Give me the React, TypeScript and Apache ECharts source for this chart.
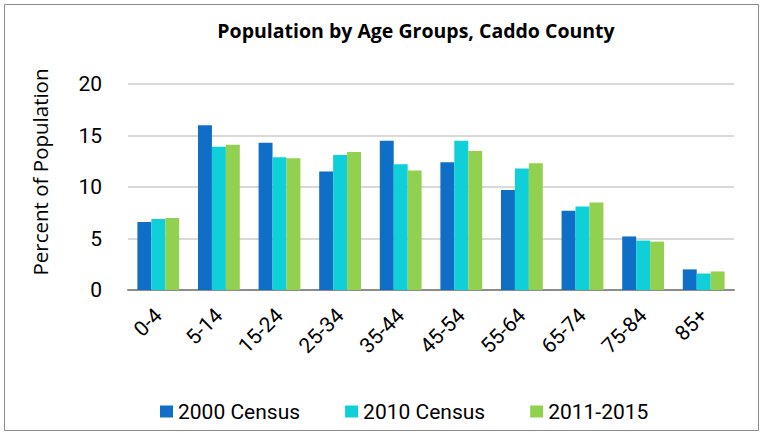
import React, { useEffect, useRef } from "react";
import * as echarts from "echarts";

const categories = ["0-4", "5-14", "15-24", "25-34", "35-44", "45-54", "55-64", "65-74", "75-84", "85+"];
const census2000 = [6.6, 16.0, 14.3, 11.5, 14.5, 12.4, 9.7, 7.7, 5.2, 2.0];
const census2010 = [6.9, 13.9, 12.9, 13.1, 12.2, 14.5, 11.8, 8.1, 4.8, 1.6];
const acs2011_2015 = [7.0, 14.1, 12.8, 13.4, 11.6, 13.5, 12.3, 8.5, 4.7, 1.8];
const seriesNames = ["2000 Census", "2010 Census", "2011-2015"];
const colors = ["#0F6FC6", "#0FCFD8", "#92D050"];

const FONT = "Roboto, 'Open Sans', sans-serif";
const WIDE = "'Open Sans', Roboto, sans-serif";

export default function App() {
  const ref = useRef<HTMLDivElement>(null);
  useEffect(() => {
    if (!ref.current) return;
    const chart = echarts.init(ref.current, undefined, { renderer: "svg" });
    const data = [census2000, census2010, acs2011_2015];
    chart.setOption({
      animation: false,
      backgroundColor: "#fff",
      title: {
        text: "Population by Age Groups, Caddo County",
        left: 411,
        top: 15,
        textAlign: "center",
        textStyle: { fontFamily: WIDE, fontSize: 19.5, fontWeight: "bold", color: "#000" },
      },
      graphic: [
        {
          type: "rect",
          shape: { x: 4.5, y: 4.5, width: 754, height: 426 },
          style: { fill: "none", stroke: "#8c8c8c", lineWidth: 1 },
        },
        {
          type: "text",
          x: 40,
          y: 172,
          rotation: Math.PI / 2,
          style: {
            text: "Percent of Population",
            fontFamily: WIDE,
            fontSize: 20.5,
            fill: "#000",
            align: "center",
            verticalAlign: "middle",
          },
        },
      ],
      legend: {
        top: 396,
        left: 155,
        itemWidth: 13,
        itemHeight: 12,
        itemGap: 45,
        icon: "rect",
        textStyle: { fontFamily: FONT, fontSize: 21, color: "#000" },
        data: seriesNames,
      },
      grid: { left: 128, right: 31, top: 84, bottom: 145, containLabel: false },
      xAxis: {
        type: "category",
        data: categories,
        axisLine: { lineStyle: { color: "#8c8c8c", width: 2 } },
        axisTick: { show: false },
        axisLabel: {
          rotate: 45,
          margin: 22,
          fontFamily: FONT,
          fontSize: 21,
          color: "#000",
        },
      },
      yAxis: {
        type: "value",
        min: 0,
        max: 20,
        interval: 5,
        axisLine: { show: false },
        axisTick: { show: false },
        splitLine: { lineStyle: { color: "#d9d9d9", width: 2 } },
        axisLabel: { fontFamily: FONT, fontSize: 21, color: "#000", margin: 26 },
      },
      series: seriesNames.map((name, i) => ({
        name,
        type: "bar",
        data: data[i],
        barGap: "0%",
        barCategoryGap: "31%",
        itemStyle: { color: colors[i] },
      })),
    });
    return () => chart.dispose();
  }, []);
  return <div ref={ref} style={{ position: "fixed", left: 0, top: 0, width: 765, height: 435 }} />;
}
